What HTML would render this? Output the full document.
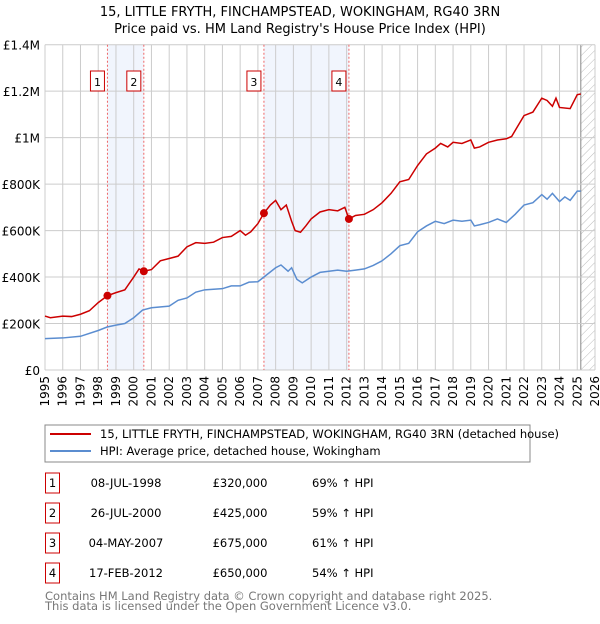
<!DOCTYPE html>
<html><head><meta charset="utf-8"><style>
body{margin:0;width:600px;height:620px;background:#fff;font-family:"DejaVu Sans","Liberation Sans",sans-serif;overflow:hidden}
svg text{font-family:"DejaVu Sans","Liberation Sans",sans-serif}
</style></head><body>
<svg id="c" width="600" height="620">
<defs><pattern id="hatch" width="6" height="6" patternUnits="userSpaceOnUse" patternTransform="rotate(45)"><line x1="0" y1="0" x2="0" y2="6" stroke="#bbb" stroke-width="1"/></pattern></defs>
<text x="300" y="16" text-anchor="middle" font-size="13" fill="#000">15, LITTLE FRYTH, FINCHAMPSTEAD, WOKINGHAM, RG40 3RN</text>
<text x="300" y="33" text-anchor="middle" font-size="13" fill="#000">Price paid vs. HM Land Registry's House Price Index (HPI)</text>
<g id="plot"></g>
<rect x="45" y="425" width="485" height="37" fill="#fff" stroke="#888"/>
<line x1="50" y1="434" x2="91" y2="434" stroke="#cc0000" stroke-width="2"/>
<text x="100" y="438" font-size="11.5">15, LITTLE FRYTH, FINCHAMPSTEAD, WOKINGHAM, RG40 3RN (detached house)</text>
<line x1="50" y1="451" x2="91" y2="451" stroke="#5b8dd0" stroke-width="2"/>
<text x="100" y="455" font-size="11.5">HPI: Average price, detached house, Wokingham</text>
<g id="tbl" font-size="11.5"></g>
<text x="45" y="600" font-size="11.5" fill="#777">Contains HM Land Registry data © Crown copyright and database right 2025.</text>
<text x="45" y="610" font-size="11.5" fill="#777">This data is licensed under the Open Government Licence v3.0.</text>
</svg>
<script>
const yearTicks=[1995,1996,1997,1998,1999,2000,2001,2002,2003,2004,2005,2006,2007,2008,2009,2010,2011,2012,2013,2014,2015,2016,2017,2018,2019,2020,2021,2022,2023,2024,2025,2026];
const priceTicks=[0,200000,400000,600000,800000,1000000,1200000,1400000];
const priceTickLabels=["£0","£200K","£400K","£600K","£800K","£1M","£1.2M","£1.4M"];
const hpiT=[1995,1996,1997,1998,1998.5,1999,1999.5,2000,2000.5,2001,2002,2002.5,2003,2003.5,2004,2005,2005.5,2006,2006.5,2007,2007.5,2008,2008.3,2008.7,2008.9,2009.2,2009.5,2010,2010.5,2011,2011.5,2012,2012.5,2013,2013.5,2014,2014.5,2015,2015.5,2016,2016.5,2017,2017.5,2018,2018.5,2019,2019.2,2019.5,2020,2020.5,2021,2021.5,2022,2022.5,2023,2023.3,2023.6,2024,2024.3,2024.6,2025,2025.2];
const hpiV=[135,138,145,170,185,193,200,225,258,268,275,300,310,335,345,350,362,362,378,380,410,440,452,425,440,390,375,400,420,425,430,425,430,435,450,470,500,535,545,595,620,640,630,645,640,645,620,625,635,650,635,670,710,720,755,735,760,725,745,730,770,770];
const propT=[1995,1995.3,1996,1996.5,1997,1997.5,1998,1998.52,1999,1999.5,2000,2000.3,2000.57,2001,2001.5,2002,2002.5,2003,2003.5,2004,2004.5,2005,2005.5,2006,2006.3,2006.6,2007,2007.34,2007.7,2008,2008.3,2008.6,2008.9,2009.1,2009.4,2009.7,2010,2010.5,2011,2011.5,2011.9,2012.13,2012.5,2013,2013.5,2014,2014.5,2015,2015.5,2016,2016.5,2017,2017.3,2017.7,2018,2018.5,2019,2019.2,2019.5,2020,2020.5,2021,2021.3,2022,2022.5,2023,2023.3,2023.6,2023.8,2024,2024.6,2025,2025.2];
const propV=[232,225,232,230,240,255,290,320,333,345,400,435,425,432,470,480,490,530,548,545,550,570,575,600,580,595,630,675,710,730,690,710,640,600,593,620,650,680,690,685,700,650,665,670,690,720,760,810,820,880,930,955,975,960,980,975,990,955,960,980,990,995,1005,1095,1110,1170,1160,1135,1170,1130,1125,1185,1188];
const saleLabels=["1","2","3","4"];
const saleT=[1998.52,2000.57,2007.34,2012.13];
const saleV=[320000,425000,675000,650000];
const saleDates=["08-JUL-1998","26-JUL-2000","04-MAY-2007","17-FEB-2012"];
const salePrices=["£320,000","£425,000","£675,000","£650,000"];
const saleHpi=["69% ↑ HPI","59% ↑ HPI","61% ↑ HPI","54% ↑ HPI"];
const X0=45,X1=595,Y0=370,Y1=44.7;
const xs=t=>X0+(t-1995)/(2026-1995)*(X1-X0);
const ys=v=>Y0-v/1400000*(Y0-Y1);
const NS="http://www.w3.org/2000/svg";
const plot=document.getElementById('plot');
function mk(tag,attrs,parent){const e=document.createElementNS(NS,tag);for(const k in attrs)e.setAttribute(k,attrs[k]);(parent||plot).appendChild(e);return e;}
for(let i=0;i<4;i+=2){const b=mk('rect',{x:xs(saleT[i]),y:Y1,width:xs(saleT[i+1])-xs(saleT[i]),height:Y0-Y1,fill:'#eef3fc',opacity:0.8});

}
const hx=xs(2025.2);
const h=mk('rect',{x:hx,y:Y1,width:X1-hx,height:Y0-Y1,fill:'url(#hatch)'});


mk('line',{x1:hx,y1:Y1,x2:hx,y2:Y0,stroke:'#888','stroke-width':1});
yearTicks.forEach(y=>{const l=mk('line',{x1:xs(y),y1:Y1,x2:xs(y),y2:Y0,stroke:'#ccc','stroke-width':1});


const t=mk('text',{x:0,y:0,'font-size':12,'text-anchor':'end',transform:`translate(${xs(y)+4},${Y0+6}) rotate(-90)`});t.textContent=y;

});
priceTicks.forEach((p,i)=>{const l=mk('line',{x1:X0,y1:ys(p),x2:X1,y2:ys(p),stroke:'#ccc','stroke-width':1});


const t=mk('text',{x:X0-5,y:ys(p)+5,'font-size':12,'text-anchor':'end'});t.textContent=priceTickLabels[i];

});
saleT.forEach((t,i)=>{const l=mk('line',{x1:xs(t),y1:Y1,x2:xs(t),y2:Y0,stroke:'#e66','stroke-width':1,'stroke-dasharray':'2,2'});


const r=mk('rect',{x:xs(t)-17,y:71,width:14,height:20,fill:'#fff',stroke:'#cc0000'});


const tx=mk('text',{x:xs(t)-10,y:86,'font-size':11,'text-anchor':'middle'});tx.textContent=saleLabels[i];

});
const hp=mk('polyline',{points:hpiT.map((t,i)=>xs(t)+','+ys(hpiV[i]*1000)).join(' '),fill:'none',stroke:'#5b8dd0','stroke-width':1.5});


const pp=mk('polyline',{points:propT.map((t,i)=>xs(t)+','+ys(propV[i]*1000)).join(' '),fill:'none',stroke:'#cc0000','stroke-width':1.5});


saleT.forEach((t,i)=>{const c=mk('circle',{cx:xs(t),cy:ys(saleV[i]),r:4,fill:'#cc0000'});

});
const tbl=document.getElementById('tbl');
saleLabels.forEach((s,i)=>{const cy=483+i*30;
const r=mk('rect',{x:45.5,y:cy-10,width:14,height:20,fill:'#fff',stroke:'#cc0000'},tbl);


const vals=[[s,52.5,'middle'],[saleDates[i],126,'middle'],[salePrices[i],240,'middle'],[saleHpi[i],312,'start']];
const names=['table-marker-label','sale-date','sale-price','sale-hpi-change'];
vals.forEach((v,j)=>{const t=mk('text',{x:v[1],y:cy+4,'text-anchor':v[2]},tbl);t.textContent=v[0];

});});
</script>
</body></html>
